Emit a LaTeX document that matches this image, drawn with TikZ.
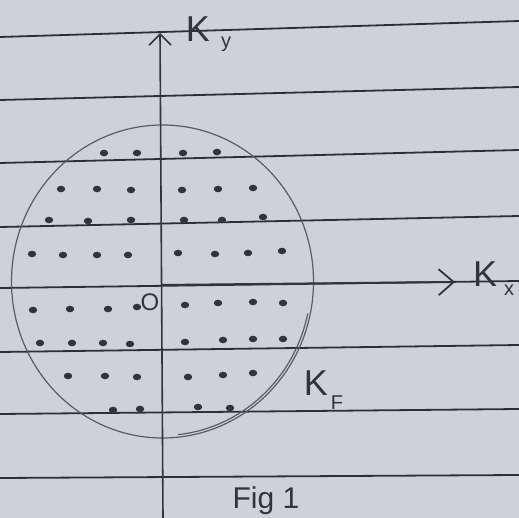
\documentclass[tikz,border=0pt]{standalone}
\usepackage{fontspec}
\setmainfont{Liberation Sans}
\usetikzlibrary{arrows.meta,shapes.geometric}
\definecolor{paper}{RGB}{206,209,215}
\definecolor{ink}{RGB}{50,52,58}
\definecolor{rule}{RGB}{45,47,53}
\definecolor{pencil}{RGB}{90,92,99}
\tikzset{
  ruled/.style={rule, line width=1.8pt},
  axis/.style={ink, line width=1.6pt, -{Straight Barb[length=11pt,width=22pt,line width=1.6pt]}},
  axisx/.style={ink, line width=2pt, -{Straight Barb[length=15pt,width=26pt,line width=1.8pt]}},
  fermi/.style={pencil, line width=1.2pt},
  dotk/.style={ink, fill=ink},
  lbl/.style={ink, inner sep=0pt, font=\fontsize{36}{36}\selectfont},
  sub/.style={ink, inner sep=0pt, font=\fontsize{20}{20}\selectfont},
}
\begin{document}
\begin{tikzpicture}[x=1pt,y=-1pt]
\fill[paper] (0,0) rectangle (519,518);
\useasboundingbox (0,0) rectangle (519,518);
% ruled lines of the paper
\foreach \a/\b in {37/21,100/87,163/150,227/216,288/281,352/345,414/409,478/475}
  \draw[ruled] (0,\a) -- (519,\b);
% Fermi circle
\node[fermi, draw, ellipse, minimum width=302pt, minimum height=313pt, inner sep=0pt] (fs) at (162.5,281.5) {};
\draw[fermi] ([shift={(12:148.5 and 154)}]fs.center) arc[start angle=12, end angle=84, x radius=148.5, y radius=154];
% axes
\coordinate (kyb) at (163,518);
\coordinate (kyt) at (160,33);
\coordinate (org) at (161,285);
\coordinate (kxe) at (455,282);
\draw[axis] (kyb) -- (kyt);
\draw[axisx] (org) -- (kxe);
% labels
\node[lbl] (ky) at (198,29) {K};
\node[sub] (kys) at (226,44) {y};
\node[lbl] (kx) at (485,274) {K};
\node[sub] (kxs) at (509,290) {x};
\node[lbl] (kf) at (316,383) {K};
\node[sub] (kfs) at (337,403) {F};
\node[ink, inner sep=0pt, font=\fontsize{24}{24}\selectfont] (o) at (150,302) {O};
\node[lbl, font=\fontsize{30}{30}\selectfont, anchor=south] (fig) at (266,515) {Fig 1};
% k-points
\foreach \x/\y in {
 104/153,137/153,183/153,217/152,
 61/189,97/189,131/190,182/190,218/189,253/188,
 49/220,88/221,131/220,184/220,222/220,263/217,
 32/254,63/255,97/255,128/255,178/253,215/254,248/253,282/251,
 33/310,70/309,108/309,137/307,185/305,218/303,253/302,283/303,
 40/343,72/343,103/343,130/344,185/342,223/340,253/339,283/339,
 68/376,105/376,137/377,188/377,223/375,253/373,
 113/410,140/409,198/407,230/408}
  \fill[dotk] (\x,\y) ellipse[x radius=4.2pt, y radius=3.3pt];
\end{tikzpicture}
\end{document}
